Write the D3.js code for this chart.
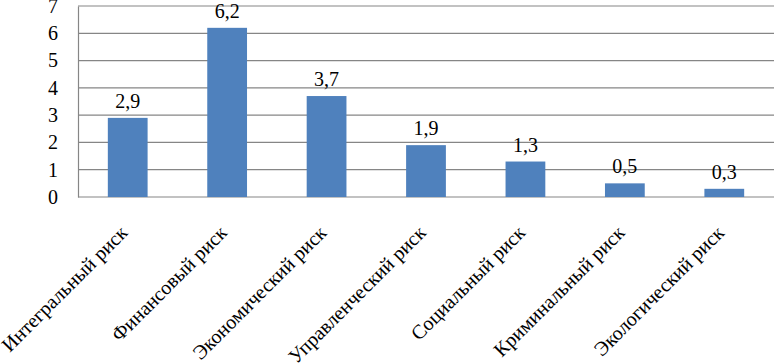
<!DOCTYPE html>
<html lang="ru">
<head>
<meta charset="UTF-8">
<script src="https://d3js.org/d3.v7.min.js"></script>
<style>
  body { margin: 0; background: #fff; }
  svg text { font-family: "Liberation Serif", "Times New Roman", "DejaVu Serif", serif !important; }
</style>
</head>
<body>
<script>
  // данные
  const categories = ["Интегральный риск", "Финансовый риск", "Экономический риск",
    "Управленческий риск", "Социальный риск", "Криминальный риск", "Экологический риск"];
  const values = [2.9, 6.2, 3.7, 1.9, 1.3, 0.5, 0.3];
  const yTicks = [0, 1, 2, 3, 4, 5, 6, 7];

  const width = 774, height = 364;
  const margin = { top: 6, right: 0, bottom: 167, left: 78 };
  const serif = "'Liberation Serif', 'Times New Roman', serif";

  const svg = d3.select("body").append("svg")
    .attr("width", width).attr("height", height)
    .attr("font-family", serif);

  const x = d3.scaleBand()
    .domain(categories)
    .range([margin.left, width - margin.right])
    .paddingInner(0.6)
    .paddingOuter(0.3);

  const y = d3.scaleLinear()
    .domain([0, 7])
    .range([height - margin.bottom, margin.top]);

  // сетка
  svg.append("g")
    .selectAll("line")
    .data(yTicks)
    .join("line")
    .attr("x1", margin.left).attr("x2", width - margin.right)
    .attr("y1", d => y(d)).attr("y2", d => y(d))
    .attr("stroke", "#868686").attr("stroke-width", 1.2);

  // ось Y
  const yAxis = svg.append("g")
    .attr("transform", `translate(${margin.left},0)`)
    .call(d3.axisLeft(y).tickValues(yTicks).tickFormat(d3.format("d")).tickSize(0).tickPadding(20));
  yAxis.attr("font-family", serif).attr("font-size", 20);
  yAxis.select(".domain").attr("stroke", "#868686").attr("stroke-width", 1.2);
  yAxis.selectAll("text").attr("fill", "#000");

  // столбцы
  svg.append("g")
    .selectAll("rect")
    .data(values)
    .join("rect")
    .attr("x", (d, i) => x(categories[i]))
    .attr("y", d => y(d))
    .attr("width", x.bandwidth())
    .attr("height", d => y(0) - y(d))
    .attr("fill", "#4f81bd");

  // подписи значений
  svg.append("g")
    .attr("font-family", serif)
    .selectAll("text")
    .data(values)
    .join("text")
    .attr("x", (d, i) => x(categories[i]) + x.bandwidth() / 2)
    .attr("y", d => y(d) - 10)
    .attr("text-anchor", "middle")
    .attr("font-size", 20)
    .text(d => String(d).replace(".", ","));

  // подписи категорий
  svg.append("g")
    .attr("font-family", serif)
    .selectAll("text")
    .data(categories)
    .join("text")
    .attr("transform", d => `translate(${x(d) + x.bandwidth() / 2 + 1},${y(0) + 37}) rotate(-45)`)
    .attr("text-anchor", "end")
    .attr("font-size", 20)
    .text(d => d);
</script>
</body>
</html>
